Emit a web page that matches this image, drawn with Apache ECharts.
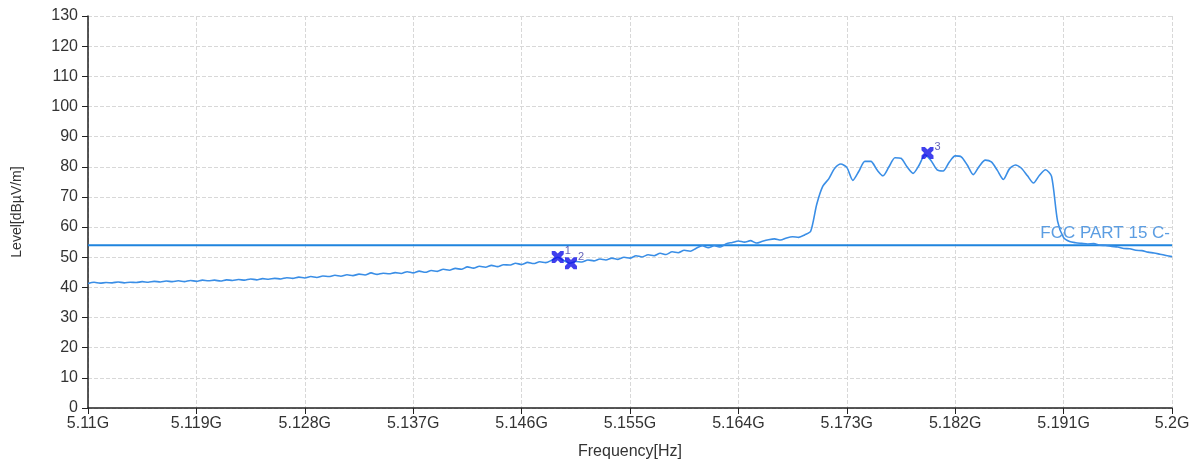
<!DOCTYPE html>
<html>
<head>
<meta charset="utf-8">
<script src="https://cdn.jsdelivr.net/npm/echarts@6/dist/echarts.min.js"></script>
<style>
html,body{margin:0;padding:0;background:#fff;}
#chart{width:1200px;height:466px;}
</style>
</head>
<body>
<div id="chart"></div>
<script>
// Sweep: start frequency and step (MHz) of the analyzer trace
const sweepStartMHz = 5110;
const sweepStepMHz = 0.5;

// Trace levels (dBuV/m), 0.5 MHz apart
const levelsA = [
  41.3,41.7,41.4,41.6,41.5,41.8,41.5,41.7,41.6,41.9,
  41.7,42.0,41.8,42.1,41.9,42.2,41.9,42.3,42.0,42.4,
  42.2,42.4,42.1,42.5,42.3,42.6,42.4,42.8,42.5,42.9,
  42.7,43.0,42.8,43.2,43.0,43.4,43.1,43.6,43.3,43.8,
  43.6,44.0,43.7,44.2,43.9,44.4,44.1,44.8,44.3,44.7,
  44.5,44.9,44.6,45.2,44.8,45.4,45.0,45.6,45.3,46.0,
  45.7
];
const levelsB = [
  46.3,46.0,46.8,46.4,47.0,46.7,47.3,46.9,47.5,47.4,
  48.0,47.6,48.3,47.9,48.5,48.2,49.0,50.0,48.9,48.0,
  48.6,48.4,49.1,48.8,49.4,49.1,49.7,49.3,50.0,49.7,
  50.5,50.1,50.8,50.5,51.3,50.9,51.8,51.5,52.3,52.0,
  53.0,53.8,53.2,53.8,53.4,54.5,54.9,55.4,55.0,55.5,
  54.7,55.3,55.8,56.1,55.7,56.4,56.8,56.6,57.4,58.6
];
const levelsC = [
  67.5,73.5,76.0,79.5,80.9,79.8,75.5,78.5,81.8,81.8,
  79.0,77.0,80.0,83.0,82.8,80.0,77.8,80.5,84.0,82.0,
  79.0,78.6,81.5,83.6,83.3,80.6,77.4,80.2,82.2,81.6,
  78.8,75.8,79.3,80.6,79.5,77.0,74.6,77.2,79.0,76.8,
  62.0,56.5,55.2,54.8,54.6,54.4,54.5,54.0,53.9,53.6,
  53.4,52.9,52.8,52.3,52.2,51.7,51.4,51.0,50.6,50.2
];

// Limit line
const limitName = 'FCC PART 15 C-';
const limitLevel = 54;

// Markers: frequency (MHz), level
const markerNames = ['1', '2', '3'];
const markerFreqMHz = [5149.0, 5150.1, 5179.7];
const markerLevels = [50.1, 48.0, 84.6];

// Axis ticks
const freqTickLabels = ['5.11G','5.119G','5.128G','5.137G','5.146G','5.155G','5.164G','5.173G','5.182G','5.191G','5.2G'];
const freqTickStepMHz = 9;
const levelMin = 0, levelMax = 130, levelStep = 10;

const levels = levelsA.concat(levelsB, levelsC);
const traceData = levels.map((v, i) => [i * sweepStepMHz, v]);
const markerData = markerNames.map((n, i) => ({
  name: n, value: [markerFreqMHz[i] - sweepStartMHz, markerLevels[i]]
}));
const spanMHz = (freqTickLabels.length - 1) * freqTickStepMHz;

const font = 'Liberation Sans, Arial, sans-serif';
const xPath = 'path://M0,0 L2.8,0 L5,2.2 L7.2,0 L10,0 L10,2.8 L7.8,5 L10,7.2 L10,10 L7.2,10 L5,7.8 L2.8,10 L0,10 L0,7.2 L2.2,5 L0,2.8 Z';

const chart = echarts.init(document.getElementById('chart'), null, {renderer: 'canvas'});
chart.setOption({
  animation: false,
  backgroundColor: '#fff',
  grid: {left: 88, right: 28, top: 16, bottom: 58},
  xAxis: {
    type: 'value', min: 0, max: spanMHz, interval: freqTickStepMHz,
    name: 'Frequency[Hz]', nameLocation: 'middle', nameGap: 36,
    nameTextStyle: {fontFamily: font, fontSize: 16, color: '#333'},
    axisLine: {show: true, onZero: false, lineStyle: {color: '#222', width: 1.5}},
    axisTick: {show: true, length: 6, inside: false, lineStyle: {color: '#222'}},
    axisLabel: {fontFamily: font, fontSize: 16, color: '#333', margin: 8,
      formatter: v => freqTickLabels[Math.round(v / freqTickStepMHz)]},
    splitLine: {show: true, lineStyle: {color: '#d8d8d8', type: 'dashed', width: 1}}
  },
  yAxis: {
    type: 'value', min: levelMin, max: levelMax, interval: levelStep,
    name: 'Level[dBµV/m]', nameLocation: 'middle', nameGap: 64,
    nameTextStyle: {fontFamily: font, fontSize: 14, color: '#333'},
    axisLine: {show: true, lineStyle: {color: '#222', width: 1.5}},
    axisTick: {show: true, length: 6, lineStyle: {color: '#222'}},
    axisLabel: {fontFamily: font, fontSize: 16, color: '#333', margin: 10},
    splitLine: {show: true, lineStyle: {color: '#d8d8d8', type: 'dashed', width: 1}}
  },
  series: [
    {
      name: 'trace', type: 'line', data: traceData, showSymbol: false, symbol: 'none',
      smooth: 0.25,
      lineStyle: {color: '#3a8ee6', width: 1.6}, z: 3
    },
    {
      name: limitName, type: 'line', data: [[0, limitLevel], [spanMHz, limitLevel]],
      showSymbol: false, symbol: 'none',
      lineStyle: {color: '#1f84de', width: 2}, z: 2,
      markPoint: {
        symbol: 'circle', symbolSize: 0,
        data: [{coord: [spanMHz, limitLevel]}],
        label: {show: true, position: 'left', distance: 2, offset: [0, -12],
          formatter: limitName, fontFamily: font, fontSize: 17, color: '#5b9de2'}
      }
    },
    {
      name: 'markers', type: 'scatter', data: markerData, symbol: xPath, symbolSize: 12,
      itemStyle: {color: '#1010e8'}, z: 5,
      label: {show: true, position: 'right', distance: 1, offset: [0, -6],
        formatter: p => p.name, fontFamily: font, fontSize: 11, color: '#3a3aa8'}
    }
  ]
});
</script>
</body>
</html>
